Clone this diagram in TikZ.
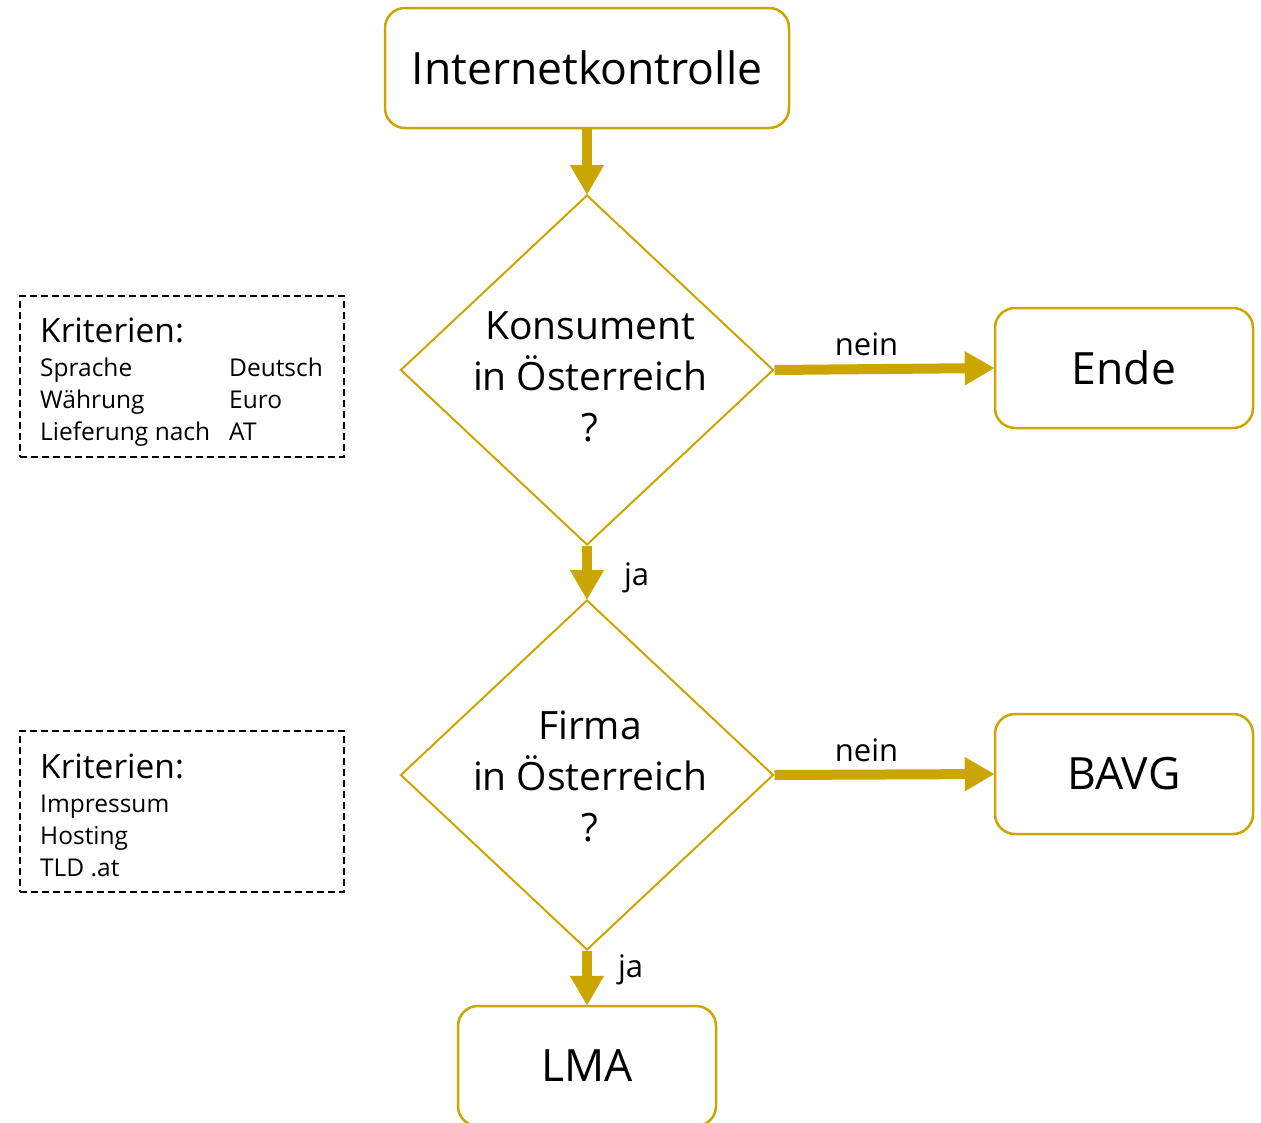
\documentclass[tikz,border=0pt]{standalone}
\usepackage{fontspec}
\setmainfont{Open Sans}
\usetikzlibrary{shapes.geometric,arrows.meta}
\definecolor{gold}{RGB}{204,166,0}
\tikzset{
  procbox/.style={draw=gold, line width=2.5pt, rounded corners=20pt, minimum width=258pt, minimum height=120pt, inner sep=0pt, font=\fontsize{44.5}{50}\selectfont},
  decision/.style={draw=gold, line width=2pt, diamond, minimum width=373pt, minimum height=350pt, inner sep=0pt},
  dectext/.style={align=center, font=\fontsize{39}{51}\selectfont, inner sep=0pt},
  flow/.style={draw=gold, line width=10pt, -{Triangle[width=32pt,length=30pt]}, shorten >=-1pt},
  lbl/.style={font=\fontsize{31}{36}\selectfont, inner sep=0pt},
  critbox/.style={draw=black, line width=1.6pt, dash pattern=on 7pt off 4pt, minimum width=324pt, minimum height=161pt, inner sep=0pt},
  crithead/.style={anchor=base west, font=\fontsize{33.5}{36}\selectfont, inner sep=0pt},
  critrow/.style={anchor=base west, font=\fontsize{24.5}{28}\selectfont, inner sep=0pt}
}
\begin{document}
\begin{tikzpicture}[x=1pt,y=-1pt]
\useasboundingbox (0,0) rectangle (1261,1122);
\clip (0,0) rectangle (1261,1122);
\node[procbox, minimum width=404pt] (start) at (587,68) {Internetkontrolle};
\node[decision] (d1) at (587,370) {};
\node[dectext] (t1) at (590,377) {Konsument\\in Österreich\\?};
\node[procbox] (ende) at (1124,368) {Ende};
\node[decision] (d2) at (587,775) {};
\node[dectext] (t2) at (590,776) {Firma\\in Österreich\\?};
\node[procbox] (bavg) at (1124,774) {BAVG};
\node[procbox] (lma) at (587,1066) {LMA};

\draw[flow] (start.south) -- (d1.north);
\draw[flow] (d1.east) -- (ende.west) node[lbl, pos=0.42, above=8pt] (n1) {nein};
\draw[flow] (d1.south) -- (d2.north) node[lbl, pos=0.6, right=32pt] (j1) {ja};
\draw[flow] (d2.south) -- (lma.north) node[lbl, pos=0.35, right=26pt] (j2) {ja};
\draw[flow] (d2.east) -- (bavg.west) node[lbl, pos=0.42, above=8pt] (n2) {nein};

\node[critbox] (c1) at (182,376.5) {};
\node[crithead] (c1h) at (40,342) {Kriterien:};
\node[critrow] (c1a) at (40,376) {Sprache};
\node[critrow] (c1b) at (40,408) {Währung};
\node[critrow] (c1c) at (40,440) {Lieferung nach};
\node[critrow] (c1d) at (229,376) {Deutsch};
\node[critrow] (c1e) at (229,408) {Euro};
\node[critrow] (c1f) at (229,440) {AT};

\node[critbox] (c2) at (182,811.5) {};
\node[crithead] (c2h) at (40,778) {Kriterien:};
\node[critrow] (c2a) at (40,812) {Impressum};
\node[critrow] (c2b) at (40,844) {Hosting};
\node[critrow] (c2c) at (40,876) {TLD .at};
\end{tikzpicture}
\end{document}
